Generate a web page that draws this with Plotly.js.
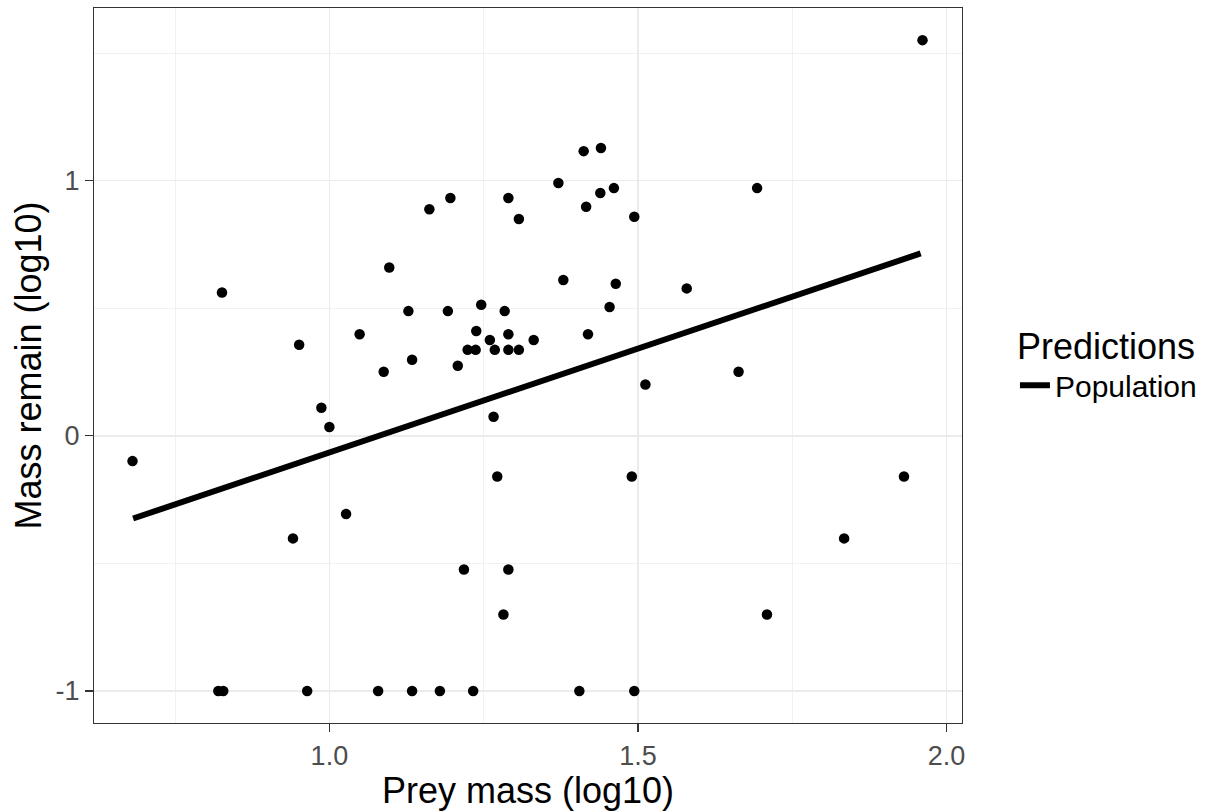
<!DOCTYPE html>
<html>
<head>
<meta charset="utf-8">
<script src="https://cdn.plot.ly/plotly-3.0.1.min.js"></script>
<style>html,body{margin:0;padding:0;background:#fff;}#chart{width:1214px;height:812px;}</style>
</head>
<body>
<div id="chart"></div>
<script>
// Observed points: prey mass (log10) vs mass remain (log10)
var preyMass = [0.681,0.820,0.828,0.826,0.941,0.951,0.964,0.987,1.000,1.027,
  1.049,1.079,1.088,1.097,1.128,1.134,1.134,1.162,1.179,1.192,
  1.196,1.208,1.218,1.224,1.233,1.237,1.238,1.246,1.260,1.266,
  1.268,1.272,1.282,1.284,1.290,1.290,1.290,1.290,1.307,1.307,
  1.331,1.371,1.379,1.405,1.412,1.416,1.419,1.439,1.440,1.454,
  1.461,1.464,1.490,1.494,1.494,1.512,1.579,1.663,1.693,1.709,
  1.834,1.931,1.961];
var massRemain = [-0.099,-1.000,-1.000,0.562,-0.402,0.357,-1.000,0.110,0.035,-0.306,
  0.398,-1.000,0.251,0.660,0.489,0.298,-1.000,0.888,-1.000,0.489,
  0.932,0.275,-0.524,0.337,-1.000,0.337,0.411,0.514,0.376,0.075,
  0.337,-0.159,-0.700,0.489,0.932,0.398,0.337,-0.524,0.850,0.337,
  0.376,0.991,0.611,-1.000,1.116,0.898,0.398,0.952,1.128,0.505,
  0.971,0.596,-0.159,0.859,-1.000,0.201,0.578,0.251,0.971,-0.700,
  -0.402,-0.159,1.551];

// Population-level prediction line (endpoints)
var predX = [0.682, 1.958];
var predY = [-0.324, 0.715];

var xTickVals = [1.0, 1.5, 2.0];
var xTickText = ['1.0', '1.5', '2.0'];
var xMinorVals = [0.75, 1.25, 1.75];
var yTickVals = [-1, 0, 1];
var yTickText = ['-1', '0', '1'];
var yMinorVals = [-0.5, 0.5, 1.5];

var FONT = '"Liberation Sans", Arial, Helvetica, sans-serif';

var traces = [
  {
    x: preyMass, y: massRemain, type: 'scatter', mode: 'markers',
    marker: {color: '#000000', size: 10.5},
    showlegend: false, hoverinfo: 'skip'
  },
  {
    x: predX, y: predY, type: 'scatter', mode: 'lines',
    line: {color: '#000000', width: 6},
    name: 'Population', showlegend: true, hoverinfo: 'skip'
  }
];

var axisCommon = {
  ticks: 'outside', ticklen: 8, tickwidth: 1.1, tickcolor: '#333333',
  showline: true, linecolor: '#333333', linewidth: 1.1, mirror: true,
  showgrid: true, gridcolor: '#EBEBEB', gridwidth: 1.4,
  zeroline: false,
  tickfont: {family: FONT, size: 27, color: '#4D4D4D'}
};

var layout = {
  width: 1214, height: 812,
  margin: {l: 94, r: 252, t: 8, b: 89, pad: 0},
  paper_bgcolor: '#FFFFFF', plot_bgcolor: '#FFFFFF',
  font: {family: FONT, color: '#000000'},
  xaxis: Object.assign({}, axisCommon, {
    range: [0.6186, 2.025], tickmode: 'array', tickvals: xTickVals, ticktext: xTickText,
    minor: {tickmode: 'array', tickvals: xMinorVals, showgrid: true, gridcolor: '#EBEBEB', gridwidth: 0.7, ticks: ''},
    title: {text: 'Prey mass (log10)', font: {family: FONT, size: 36, color: '#000000'}, standoff: 6}
  }),
  yaxis: Object.assign({}, axisCommon, {
    range: [-1.1255, 1.677], tickmode: 'array', tickvals: yTickVals, ticktext: yTickText,
    minor: {tickmode: 'array', tickvals: yMinorVals, showgrid: true, gridcolor: '#EBEBEB', gridwidth: 0.7, ticks: ''},
    title: {text: 'Mass remain (log10)', font: {family: FONT, size: 36, color: '#000000'}, standoff: 2}
  }),
  legend: {
    x: 1.061, xanchor: 'left', y: 0.505, yanchor: 'middle',
    bgcolor: 'rgba(0,0,0,0)',
    title: {text: 'Predictions', font: {family: FONT, size: 36, color: '#000000'}},
    font: {family: FONT, size: 30, color: '#000000'},
    itemwidth: 30
  },
  hovermode: false
};

Plotly.newPlot('chart', traces, layout, {displayModeBar: false, staticPlot: true});
</script>
</body>
</html>
